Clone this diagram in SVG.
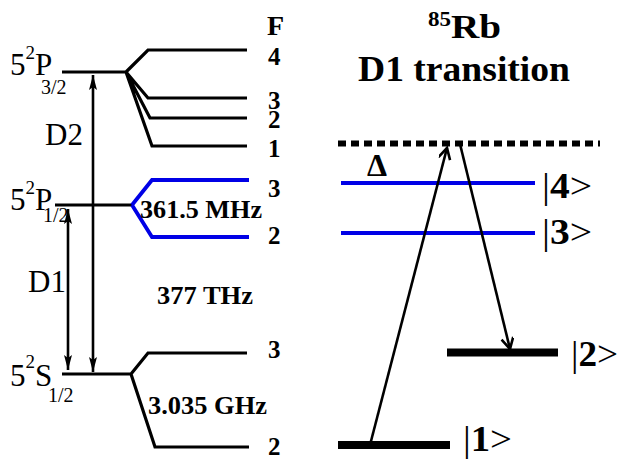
<svg xmlns="http://www.w3.org/2000/svg" width="621" height="459" viewBox="0 0 621 459">
<style>
text{font-family:"Liberation Serif","Times New Roman",serif;fill:#000}
.b{font-weight:bold}
.lv{fill:none;stroke:#000;stroke-width:3.2}
.bl{fill:none;stroke:#0000e6;stroke-width:3.8}
.thick{fill:none;stroke:#000;stroke-width:8}
.arr{fill:none;stroke:#000;stroke-width:2.6}
.lab{font-size:31px}
.sup{font-size:19px}
.sub{font-size:20px}
.fn{font-size:25px;font-weight:bold}
.ket{font-size:36px}
</style>
<defs>
<marker id="tri" markerUnits="userSpaceOnUse" markerWidth="16" markerHeight="8" refX="15" refY="4" orient="auto-start-reverse">
<path d="M0,0 L15,4 L0,8 L3,4 z" fill="#000"/>
</marker>
<marker id="open" markerUnits="userSpaceOnUse" markerWidth="14" markerHeight="14" refX="12" refY="6" orient="auto">
<path d="M1,0 L12,6 L1,12" fill="none" stroke="#000" stroke-width="2.6"/>
</marker>
</defs>
<rect width="621" height="459" fill="#fff"/>

<g id="P32">
<path class="lv" d="M62,72 H126 M126,72 L148,50 H247 M126,72 L148,98 H247 M126,72 L150,118 H247 M126,72 L152,146 H247"/>
<text x="10" y="75" class="lab">5<tspan class="sup" dy="-16">2</tspan><tspan dy="16">P</tspan><tspan class="sub" x="41" dy="19">3/2</tspan></text>
</g>
<g id="P12">
<path class="lv" d="M55,205 H132"/>
<path class="bl" d="M132,205 L152,180 H249 M132,205 L152,237 H249"/>
<text x="10" y="210" class="lab">5<tspan class="sup" dy="-16">2</tspan><tspan dy="16">P</tspan><tspan class="sub" x="43" dy="12">1/2</tspan></text>
</g>
<g id="S12">
<path class="lv" d="M62,374 H131 M131,374 L148,353 H247 M131,374 L155,447 H249"/>
<text x="10" y="386" class="lab">5<tspan class="sup" dy="-18">2</tspan><tspan dy="18">S</tspan><tspan class="sub" x="48" dy="16">1/2</tspan></text>
</g>
<g id="Flabels">
<text x="267" y="35" class="b" font-size="28">F</text>
<text x="268" y="65" class="fn">4</text>
<text x="268" y="109" class="fn">3</text>
<text x="268" y="128" class="fn">2</text>
<text x="268" y="157" class="fn">1</text>
<text x="268" y="197" class="fn">3</text>
<text x="268" y="244" class="fn">2</text>
<text x="268" y="358" class="fn">3</text>
<text x="268" y="455" class="fn">2</text>
</g>
<g id="splittings">
<text x="140" y="218" class="fn" textLength="122" lengthAdjust="spacingAndGlyphs">361.5 MHz</text>
<text x="157" y="304" class="fn" textLength="96" lengthAdjust="spacingAndGlyphs">377 THz</text>
<text x="148" y="414" class="fn" textLength="119" lengthAdjust="spacingAndGlyphs">3.035 GHz</text>
<text x="45" y="145" class="lab">D2</text>
<text x="28" y="292" class="lab">D1</text>
</g>

<g id="title">
<text x="428" y="38" class="b" font-size="34" textLength="73" lengthAdjust="spacingAndGlyphs"><tspan font-size="20" dy="-12">85</tspan><tspan dy="12">Rb</tspan></text>
<text x="358" y="81" class="b" font-size="35" textLength="212" lengthAdjust="spacingAndGlyphs">D1 transition</text>
</g>
<g id="virtual">
<path d="M338,143.5 H600" fill="none" stroke="#000" stroke-width="6" stroke-dasharray="8 5"/>
<text x="367" y="176" class="b" font-size="32">Δ</text>
</g>
<g id="k4">
<path class="bl" d="M341,183 H535"/>
<text x="542" y="198" class="ket" textLength="50" lengthAdjust="spacingAndGlyphs">|<tspan class="b">4</tspan>&gt;</text>
</g>
<g id="k3">
<path class="bl" d="M341,233 H535"/>
<text x="542" y="244" class="ket" textLength="50" lengthAdjust="spacingAndGlyphs">|<tspan class="b">3</tspan>&gt;</text>
</g>
<g id="k2">
<path class="thick" d="M447,352.5 H558"/>
<text x="571" y="366" class="ket" textLength="47" lengthAdjust="spacingAndGlyphs">|<tspan class="b">2</tspan>&gt;</text>
</g>
<g id="k1">
<path class="thick" d="M338,445 H450"/>
<text x="463" y="451" class="ket" textLength="49" lengthAdjust="spacingAndGlyphs">|<tspan class="b">1</tspan>&gt;</text>
</g>

<g id="connectors">
<line class="arr" x1="93" y1="75" x2="93" y2="372" marker-start="url(#tri)" marker-end="url(#tri)"/>
<line class="arr" x1="68" y1="209" x2="68" y2="370" marker-start="url(#tri)" marker-end="url(#tri)"/>
<line class="arr" x1="370" y1="445" x2="447" y2="148" marker-end="url(#open)"/>
<line class="arr" x1="460" y1="144" x2="510" y2="349" marker-end="url(#open)"/>
</g>
</svg>
